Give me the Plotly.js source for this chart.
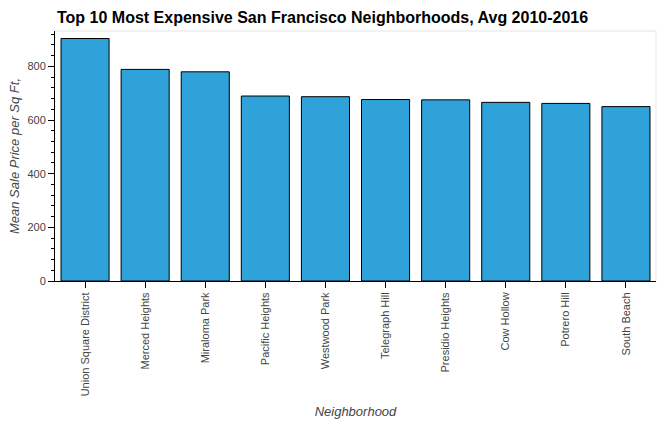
<!DOCTYPE html>
<html>
<head>
<meta charset="utf-8">
<script src="https://cdn.plot.ly/plotly-3.0.1.min.js"></script>
<style>html,body{margin:0;padding:0;background:#fff;}#chart{width:666px;height:422px;}</style>
</head>
<body>
<div id="chart"></div>
<script>
const neighborhoods = ["Union Square District","Merced Heights","Miraloma Park","Pacific Heights","Westwood Park","Telegraph Hill","Presidio Heights","Cow Hollow","Potrero Hill","South Beach"];
const salePrice = [903.99, 788.84, 779.81, 689.56, 687.09, 676.51, 675.35, 665.96, 662.01, 650.12];
const yTicks = [0, 200, 400, 600, 800];

const trace = {
  type: 'bar',
  x: neighborhoods,
  y: salePrice,
  marker: {color: '#30a2da', line: {color: '#000', width: 1}},
  hoverinfo: 'x+y'
};

const layout = {
  width: 666, height: 422,
  margin: {l: 55, r: 10, t: 31, b: 141},
  paper_bgcolor: '#fff', plot_bgcolor: '#fff',
  bargap: 0.2,
  showlegend: false,
  font: {family: 'Liberation Sans, Arial, sans-serif', size: 11, color: '#444'},
  title: {
    text: 'Top 10 Most Expensive San Francisco Neighborhoods, Avg 2010-2016',
    font: {family: 'Liberation Sans, Arial, sans-serif', size: 16, color: '#000', weight: 'bold'},
    x: 57/666, xref: 'container', xanchor: 'left',
    y: 1 - 17/422, yref: 'container', yanchor: 'middle'
  },
  xaxis: {
    type: 'category',
    tickangle: -90,
    ticks: 'outside', ticklen: 6, tickcolor: '#000', tickwidth: 1,
    showline: true, linecolor: '#000', linewidth: 1,
    showgrid: false, zeroline: false,
    tickfont: {size: 11, color: '#444'},
    title: {text: 'Neighborhood', font: {size: 13, color: '#444', style: 'italic'}, standoff: 11},
    automargin: false
  },
  yaxis: {
    range: [0, 932],
    tickvals: yTicks,
    ticktext: yTicks.map(String),
    ticks: 'outside', ticklen: 6, tickcolor: '#000', tickwidth: 1,
    minor: {dtick: 40, tick0: 0, ticks: 'outside', ticklen: 3, tickcolor: '#000', tickwidth: 1, showgrid: false},
    showline: true, linecolor: '#000', linewidth: 1,
    showgrid: false, zeroline: false,
    tickfont: {size: 11, color: '#444'},
    title: {text: 'Mean Sale Price per Sq Ft,', font: {size: 13, color: '#444', style: 'italic'}, standoff: 4},
    automargin: false
  },
  shapes: [
    {type: 'line', xref: 'paper', yref: 'paper', x0: 0, x1: 1, y0: 1, y1: 1, line: {color: '#e5e5e5', width: 1}},
    {type: 'line', xref: 'paper', yref: 'paper', x0: 1, x1: 1, y0: 0, y1: 1, line: {color: '#e5e5e5', width: 1}}
  ]
};

Plotly.newPlot('chart', [trace], layout, {displayModeBar: false, staticPlot: true});
</script>
</body>
</html>
